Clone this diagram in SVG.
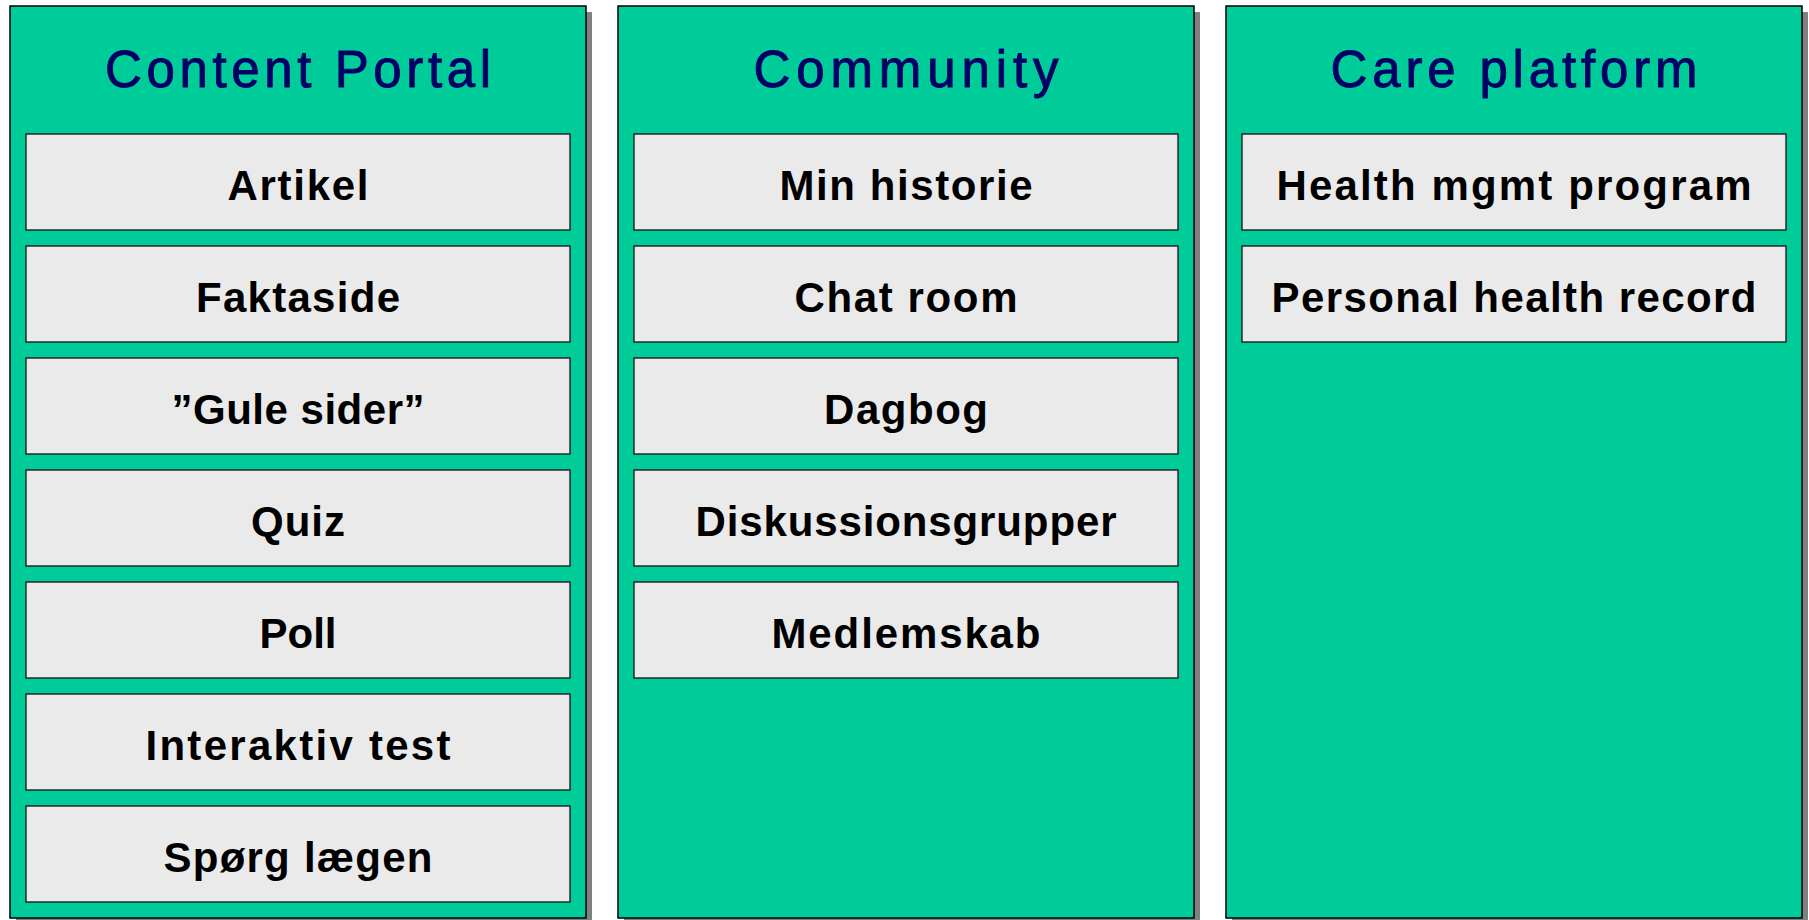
<svg xmlns="http://www.w3.org/2000/svg" width="1809" height="920" viewBox="0 0 1809 920">
<style>
.shadow{fill:#808080}
.col{fill:#00CC99;stroke:#000;stroke-width:1.5}
.box{fill:#EAEAEA;stroke:#111;stroke-width:1.3}
.title{font-family:"Liberation Sans",Arial,sans-serif;font-size:51px;fill:#000066;stroke:#000066;stroke-width:0.9px;text-anchor:middle}
.item{font-family:"Liberation Sans",Arial,sans-serif;font-weight:bold;font-size:42px;fill:#000;text-anchor:middle}
</style>
<rect width="1809" height="920" fill="#fff"/>
<g id="content-portal">
<rect class="shadow" x="16" y="12" width="576" height="912"/>
<rect class="col" x="10" y="6" width="576" height="912"/>
<text class="title" x="298" y="87" textLength="386" lengthAdjust="spacing">Content Portal</text>
</g>
<g id="community">
<rect class="shadow" x="624" y="12" width="576" height="912"/>
<rect class="col" x="618" y="6" width="576" height="912"/>
<text class="title" x="906" y="87" textLength="305" lengthAdjust="spacing">Community</text>
</g>
<g id="care-platform">
<rect class="shadow" x="1232" y="12" width="576" height="912"/>
<rect class="col" x="1226" y="6" width="576" height="912"/>
<text class="title" x="1514" y="87" textLength="367" lengthAdjust="spacing">Care platform</text>
</g>
<g id="artikel"><rect class="box" x="26" y="134" width="544" height="96"/><text class="item" x="298" y="200" textLength="141" lengthAdjust="spacing">Artikel</text></g>
<g id="faktaside"><rect class="box" x="26" y="246" width="544" height="96"/><text class="item" x="298" y="312" textLength="204" lengthAdjust="spacing">Faktaside</text></g>
<g id="gule-sider"><rect class="box" x="26" y="358" width="544" height="96"/><text class="item" x="298" y="424" textLength="253" lengthAdjust="spacing">”Gule sider”</text></g>
<g id="quiz"><rect class="box" x="26" y="470" width="544" height="96"/><text class="item" x="298" y="536" textLength="94" lengthAdjust="spacing">Quiz</text></g>
<g id="poll"><rect class="box" x="26" y="582" width="544" height="96"/><text class="item" x="298" y="648" textLength="77" lengthAdjust="spacing">Poll</text></g>
<g id="interaktiv-test"><rect class="box" x="26" y="694" width="544" height="96"/><text class="item" x="298" y="760" textLength="305" lengthAdjust="spacing">Interaktiv test</text></g>
<g id="spoerg-laegen"><rect class="box" x="26" y="806" width="544" height="96"/><text class="item" x="298" y="872" textLength="269" lengthAdjust="spacing">Spørg lægen</text></g>
<g id="min-historie"><rect class="box" x="634" y="134" width="544" height="96"/><text class="item" x="906" y="200" textLength="253" lengthAdjust="spacing">Min historie</text></g>
<g id="chat-room"><rect class="box" x="634" y="246" width="544" height="96"/><text class="item" x="906" y="312" textLength="223" lengthAdjust="spacing">Chat room</text></g>
<g id="dagbog"><rect class="box" x="634" y="358" width="544" height="96"/><text class="item" x="906" y="424" textLength="164" lengthAdjust="spacing">Dagbog</text></g>
<g id="diskussionsgrupper"><rect class="box" x="634" y="470" width="544" height="96"/><text class="item" x="906" y="536" textLength="421" lengthAdjust="spacing">Diskussionsgrupper</text></g>
<g id="medlemskab"><rect class="box" x="634" y="582" width="544" height="96"/><text class="item" x="906" y="648" textLength="269" lengthAdjust="spacing">Medlemskab</text></g>
<g id="health-mgmt-program"><rect class="box" x="1242" y="134" width="544" height="96"/><text class="item" x="1514" y="200" textLength="475" lengthAdjust="spacing">Health mgmt program</text></g>
<g id="personal-health-record"><rect class="box" x="1242" y="246" width="544" height="96"/><text class="item" x="1514" y="312" textLength="485" lengthAdjust="spacing">Personal health record</text></g>
<g id="connectors"></g>
</svg>
